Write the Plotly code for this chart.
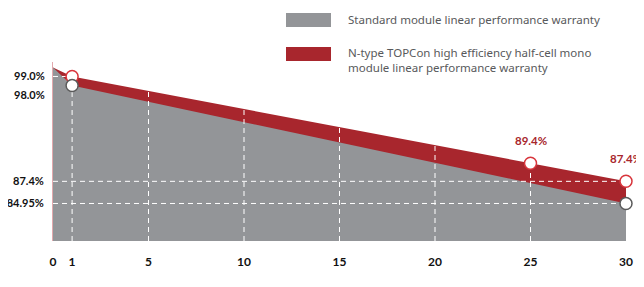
import numpy as np
import plotly.graph_objects as go

# ---- data ----
years = [0, 1, 25, 30]
topcon = [100.0, 99.0, 89.4, 87.4]          # N-type TOPCon warranty (%)
std_years = [0, 1, 30]
standard = [100.0, 98.0, 84.95]              # standard module warranty (%)
x_ticks = [0, 1, 5, 10, 15, 20, 25, 30]
y_axis_ticks = [87.4, 84.95]
y_axis_text = ["87.4%", "84.95%"]
y_top_ticks = [99.0, 98.0]
y_top_text = ["99.0%", "98.0%"]
topcon_labels = {25: "89.4%", 30: "87.4%"}
legend_std = "Standard module linear performance warranty"
legend_topcon = "N-type TOPCon high efficiency half-cell mono<br>module linear performance warranty"

RED = "#a8262d"
RED_LINE = "#d8353c"
GRAY = "#939598"
GRAY_TXT = "#58595b"
YMIN, YMAX = 80.8, 100.6

fig = go.Figure()
# red area (TOPCon)
fig.add_trace(go.Scatter(x=years, y=topcon, mode="lines", line=dict(width=0, color=RED),
                         fill="tozeroy", fillcolor=RED, hoverinfo="skip", showlegend=False))
# gray area (standard)
fig.add_trace(go.Scatter(x=std_years, y=standard, mode="lines", line=dict(width=0, color=GRAY),
                         fill="tozeroy", fillcolor=GRAY, hoverinfo="skip", showlegend=False))

dash = "5px,4px"
grid_style = dict(color="white", width=1, dash=dash)
# vertical dashed guides (from bottom up to the curves)
for xv in x_ticks[1:-1]:
    if xv == 1:
        top = np.interp(xv, std_years, standard)
    else:
        top = np.interp(xv, years, topcon)
    fig.add_trace(go.Scatter(x=[xv, xv], y=[YMIN, top], mode="lines", line=grid_style,
                             hoverinfo="skip", showlegend=False))
# horizontal dashed guides
fig.add_trace(go.Scatter(x=[0, 1], y=[99.0, 99.0], mode="lines", line=grid_style,
                         hoverinfo="skip", showlegend=False))
for yv in y_axis_ticks:
    fig.add_trace(go.Scatter(x=[0, 30], y=[yv, yv], mode="lines", line=grid_style,
                             hoverinfo="skip", showlegend=False))

# markers
fig.add_trace(go.Scatter(x=years[1:], y=topcon[1:], mode="markers",
                         marker=dict(size=12, color="white", line=dict(color=RED_LINE, width=1.5)),
                         cliponaxis=False, hoverinfo="skip", showlegend=False))
fig.add_trace(go.Scatter(x=std_years[1:], y=standard[1:], mode="markers",
                         marker=dict(size=12, color="white", line=dict(color="#5a5a5a", width=1.5)),
                         cliponaxis=False, hoverinfo="skip", showlegend=False))

lab_font = dict(family="Lato", size=12, color="#111111", weight="bold")
ylab_font = dict(family="Lato", size=11, color="#111111", weight="bold")

# value labels above TOPCon points
for xv, txt in topcon_labels.items():
    fig.add_annotation(x=xv, y=np.interp(xv, years, topcon), text=txt, showarrow=False,
                       yshift=23, font=dict(family="Lato", size=11.5, color=RED, weight="bold"))

# top y labels (99 / 98)
for yv, txt, sh in zip(y_top_ticks, y_top_text, [1, -9]):
    fig.add_annotation(xref="paper", x=0, y=yv, text=txt, showarrow=False, xanchor="right",
                       xshift=-6, yshift=sh, font=ylab_font)

# page has an 8px body margin: the figure starts at (8, 8) in the window
OFF = 8
FW, FH = 644 - OFF, 287 - OFF
W, H, L, T = 573, 179, 53, 62          # plot area in window pixels
def px_x(p):
    return (p - L) / W
def px_y(p):
    return (T + H - p) / H
fig.add_shape(type="rect", xref="paper", yref="paper", x0=px_x(286), x1=px_x(331),
              y0=px_y(27), y1=px_y(13), fillcolor=GRAY, line=dict(width=0))
fig.add_shape(type="rect", xref="paper", yref="paper", x0=px_x(286), x1=px_x(331),
              y0=px_y(61), y1=px_y(47), fillcolor=RED, line=dict(width=0))
leg_font = dict(family="Noto Sans", size=11.5, color=GRAY_TXT)
fig.add_annotation(xref="paper", yref="paper", x=px_x(346), y=px_y(20), text=legend_std,
                   showarrow=False, xanchor="left", yanchor="middle", font=leg_font)
fig.add_annotation(xref="paper", yref="paper", x=px_x(346), y=px_y(60), text=legend_topcon,
                   showarrow=False, xanchor="left", yanchor="middle", align="left", font=leg_font)

fig.update_layout(
    width=FW, height=FH,
    margin=dict(l=L - OFF, r=FW - (L - OFF) - W, t=T - OFF, b=FH - (T - OFF) - H, autoexpand=False),
    paper_bgcolor="white", plot_bgcolor="white",
    xaxis=dict(range=[0, 30], tickvals=x_ticks, ticktext=[str(v) for v in x_ticks],
               showgrid=False, zeroline=False, showline=False, ticks="", automargin=False,
               ticklabelstandoff=12, tickfont=lab_font, fixedrange=True),
    yaxis=dict(range=[YMIN, YMAX], tickvals=y_axis_ticks, ticktext=y_axis_text,
               showgrid=False, zeroline=False, showline=True, linecolor="#e3a9ad", linewidth=1,
               ticks="", ticklabelstandoff=6, tickfont=ylab_font, fixedrange=True, automargin=False),
)

fig.write_html("out.html", config={"displayModeBar": False})
